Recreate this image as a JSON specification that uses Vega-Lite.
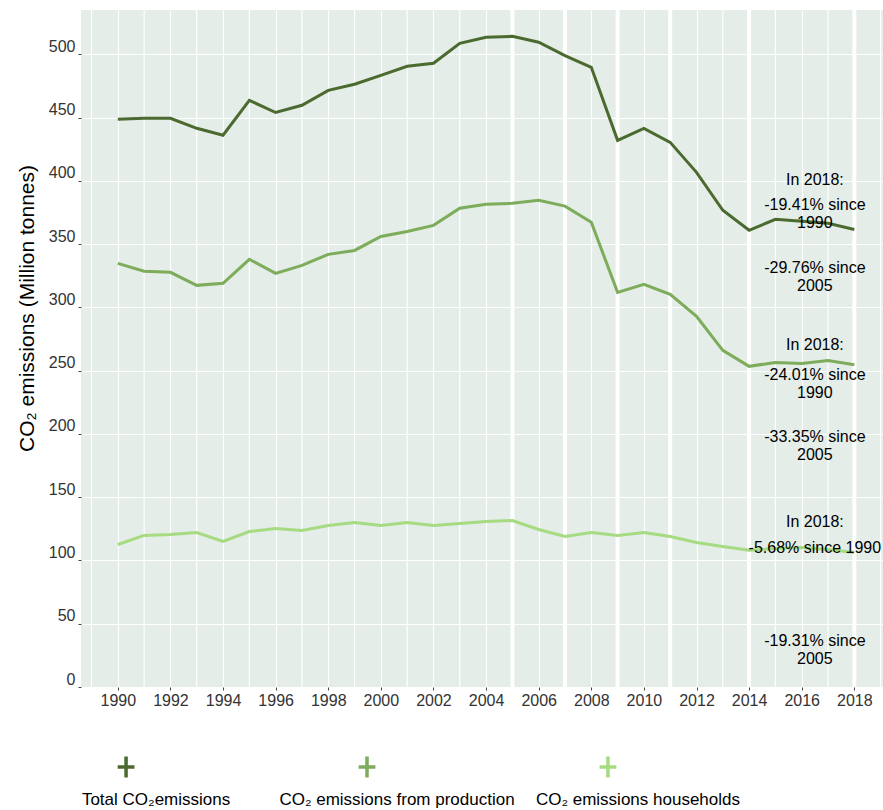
{
  "$schema": "https://vega.github.io/schema/vega-lite/v6.json",
  "padding": {"left": 16, "top": 8, "right": 0, "bottom": 0},
  "background": "white",
  "bounds": "flush",
  "spacing": 40,
  "config": {"font": "Liberation Sans"},
  "datasets": {
    "emissions": [
      {"year": 1990, "series": "Total CO₂emissions", "value": 448.6},
      {"year": 1991, "series": "Total CO₂emissions", "value": 449.4},
      {"year": 1992, "series": "Total CO₂emissions", "value": 449.4},
      {"year": 1993, "series": "Total CO₂emissions", "value": 441.5},
      {"year": 1994, "series": "Total CO₂emissions", "value": 436.0},
      {"year": 1995, "series": "Total CO₂emissions", "value": 463.6},
      {"year": 1996, "series": "Total CO₂emissions", "value": 454.0},
      {"year": 1997, "series": "Total CO₂emissions", "value": 459.7},
      {"year": 1998, "series": "Total CO₂emissions", "value": 471.5},
      {"year": 1999, "series": "Total CO₂emissions", "value": 476.3},
      {"year": 2000, "series": "Total CO₂emissions", "value": 483.4},
      {"year": 2001, "series": "Total CO₂emissions", "value": 490.5},
      {"year": 2002, "series": "Total CO₂emissions", "value": 492.9},
      {"year": 2003, "series": "Total CO₂emissions", "value": 508.7},
      {"year": 2004, "series": "Total CO₂emissions", "value": 513.4},
      {"year": 2005, "series": "Total CO₂emissions", "value": 514.2},
      {"year": 2006, "series": "Total CO₂emissions", "value": 509.5},
      {"year": 2007, "series": "Total CO₂emissions", "value": 499.0},
      {"year": 2008, "series": "Total CO₂emissions", "value": 489.7},
      {"year": 2009, "series": "Total CO₂emissions", "value": 432.0},
      {"year": 2010, "series": "Total CO₂emissions", "value": 441.5},
      {"year": 2011, "series": "Total CO₂emissions", "value": 430.4},
      {"year": 2012, "series": "Total CO₂emissions", "value": 406.7},
      {"year": 2013, "series": "Total CO₂emissions", "value": 376.7},
      {"year": 2014, "series": "Total CO₂emissions", "value": 360.9},
      {"year": 2015, "series": "Total CO₂emissions", "value": 369.6},
      {"year": 2016, "series": "Total CO₂emissions", "value": 368.0},
      {"year": 2017, "series": "Total CO₂emissions", "value": 366.4},
      {"year": 2018, "series": "Total CO₂emissions", "value": 361.5},
      {"year": 1990, "series": "CO₂ emissions from production", "value": 334.8},
      {"year": 1991, "series": "CO₂ emissions from production", "value": 328.5},
      {"year": 1992, "series": "CO₂ emissions from production", "value": 327.7},
      {"year": 1993, "series": "CO₂ emissions from production", "value": 317.4},
      {"year": 1994, "series": "CO₂ emissions from production", "value": 319.0},
      {"year": 1995, "series": "CO₂ emissions from production", "value": 338.0},
      {"year": 1996, "series": "CO₂ emissions from production", "value": 326.9},
      {"year": 1997, "series": "CO₂ emissions from production", "value": 333.2},
      {"year": 1998, "series": "CO₂ emissions from production", "value": 341.9},
      {"year": 1999, "series": "CO₂ emissions from production", "value": 345.0},
      {"year": 2000, "series": "CO₂ emissions from production", "value": 356.0},
      {"year": 2001, "series": "CO₂ emissions from production", "value": 360.0},
      {"year": 2002, "series": "CO₂ emissions from production", "value": 364.8},
      {"year": 2003, "series": "CO₂ emissions from production", "value": 378.3},
      {"year": 2004, "series": "CO₂ emissions from production", "value": 381.4},
      {"year": 2005, "series": "CO₂ emissions from production", "value": 382.2},
      {"year": 2006, "series": "CO₂ emissions from production", "value": 384.6},
      {"year": 2007, "series": "CO₂ emissions from production", "value": 380.0},
      {"year": 2008, "series": "CO₂ emissions from production", "value": 367.2},
      {"year": 2009, "series": "CO₂ emissions from production", "value": 311.9},
      {"year": 2010, "series": "CO₂ emissions from production", "value": 318.2},
      {"year": 2011, "series": "CO₂ emissions from production", "value": 310.3},
      {"year": 2012, "series": "CO₂ emissions from production", "value": 292.9},
      {"year": 2013, "series": "CO₂ emissions from production", "value": 266.0},
      {"year": 2014, "series": "CO₂ emissions from production", "value": 253.4},
      {"year": 2015, "series": "CO₂ emissions from production", "value": 256.5},
      {"year": 2016, "series": "CO₂ emissions from production", "value": 255.7},
      {"year": 2017, "series": "CO₂ emissions from production", "value": 258.0},
      {"year": 2018, "series": "CO₂ emissions from production", "value": 254.7},
      {"year": 1990, "series": "CO₂ emissions households", "value": 112.6},
      {"year": 1991, "series": "CO₂ emissions households", "value": 119.8},
      {"year": 1992, "series": "CO₂ emissions households", "value": 120.6},
      {"year": 1993, "series": "CO₂ emissions households", "value": 122.1},
      {"year": 1994, "series": "CO₂ emissions households", "value": 115.0},
      {"year": 1995, "series": "CO₂ emissions households", "value": 122.9},
      {"year": 1996, "series": "CO₂ emissions households", "value": 125.3},
      {"year": 1997, "series": "CO₂ emissions households", "value": 123.7},
      {"year": 1998, "series": "CO₂ emissions households", "value": 127.7},
      {"year": 1999, "series": "CO₂ emissions households", "value": 130.0},
      {"year": 2000, "series": "CO₂ emissions households", "value": 127.7},
      {"year": 2001, "series": "CO₂ emissions households", "value": 130.0},
      {"year": 2002, "series": "CO₂ emissions households", "value": 127.7},
      {"year": 2003, "series": "CO₂ emissions households", "value": 129.2},
      {"year": 2004, "series": "CO₂ emissions households", "value": 130.8},
      {"year": 2005, "series": "CO₂ emissions households", "value": 131.6},
      {"year": 2006, "series": "CO₂ emissions households", "value": 124.5},
      {"year": 2007, "series": "CO₂ emissions households", "value": 119.0},
      {"year": 2008, "series": "CO₂ emissions households", "value": 122.1},
      {"year": 2009, "series": "CO₂ emissions households", "value": 119.8},
      {"year": 2010, "series": "CO₂ emissions households", "value": 122.1},
      {"year": 2011, "series": "CO₂ emissions households", "value": 119.0},
      {"year": 2012, "series": "CO₂ emissions households", "value": 114.2},
      {"year": 2013, "series": "CO₂ emissions households", "value": 111.0},
      {"year": 2014, "series": "CO₂ emissions households", "value": 108.0},
      {"year": 2015, "series": "CO₂ emissions households", "value": 109.5},
      {"year": 2016, "series": "CO₂ emissions households", "value": 110.3},
      {"year": 2017, "series": "CO₂ emissions households", "value": 108.7},
      {"year": 2018, "series": "CO₂ emissions households", "value": 106.2}
    ],
    "notes": [
      {"year": 2016.5, "value": 400.5, "label": "In 2018:"},
      {"year": 2016.5, "value": 380.7, "label": "-19.41% since\n1990"},
      {"year": 2016.5, "value": 331.0, "label": "-29.76% since\n2005"},
      {"year": 2016.5, "value": 270.1, "label": "In 2018:"},
      {"year": 2016.5, "value": 246.4, "label": "-24.01% since\n1990"},
      {"year": 2016.5, "value": 197.5, "label": "-33.35% since\n2005"},
      {"year": 2016.5, "value": 130.3, "label": "In 2018:"},
      {"year": 2016.5, "value": 109.8, "label": "-5.68% since 1990"},
      {"year": 2016.5, "value": 36.3, "label": "-19.31% since\n2005"}
    ],
    "minorGrid": [
      {"year": 1989}, {"year": 1991}, {"year": 1993}, {"year": 1995}, {"year": 1997},
      {"year": 1999}, {"year": 2001}, {"year": 2003}, {"year": 2013}, {"year": 2015},
      {"year": 2017}, {"year": 2019}
    ],
    "breakLines": [
      {"year": 2005}, {"year": 2007}, {"year": 2009}, {"year": 2011}, {"year": 2014}, {"year": 2018}
    ],
    "legend": [
      {"series": "Total CO₂emissions"},
      {"series": "CO₂ emissions from production"},
      {"series": "CO₂ emissions households"}
    ]
  },
  "vconcat": [
    {
      "width": 802,
      "height": 677,
      "view": {"fill": "#e4ede7", "stroke": null},
      "layer": [
        {
          "data": {"name": "minorGrid"},
          "mark": {"type": "rule", "color": "white", "strokeWidth": 1.2},
          "encoding": {
            "x": {
              "field": "year",
              "type": "quantitative",
              "scale": {"domain": [1988.6, 2019.09], "nice": false, "zero": false},
              "axis": {
                "title": null,
                "values": [1990, 1992, 1994, 1996, 1998, 2000, 2002, 2004, 2006, 2008, 2010, 2012, 2014, 2016, 2018],
                "format": "d",
                "labelOverlap": false,
                "labelFlush": false,
                "labelFontSize": 16,
                "labelColor": "#333333",
                "labelPadding": 2,
                "domain": false,
                "tickSize": 3,
                "tickColor": "#444444",
                "grid": true,
                "gridColor": "white",
                "gridOpacity": 1,
                "gridWidth": 1.2
              }
            }
          }
        },
        {
          "data": {"name": "breakLines"},
          "mark": {"type": "rule", "color": "white", "strokeWidth": 4},
          "encoding": {
            "x": {"field": "year", "type": "quantitative"}
          }
        },
        {
          "data": {"name": "emissions"},
          "mark": {"type": "line", "strokeWidth": 3},
          "encoding": {
            "x": {"field": "year", "type": "quantitative"},
            "y": {
              "field": "value",
              "type": "quantitative",
              "scale": {"domain": [0, 535], "nice": false},
              "axis": {
                "title": "CO₂ emissions (Million tonnes)",
                "titleFontSize": 21,
                "titleFontWeight": "normal",
                "titleColor": "black",
                "titlePadding": 11,
                "titleY": 298,
                "values": [0, 25, 50, 75, 100, 125, 150, 175, 200, 225, 250, 275, 300, 325, 350, 375, 400, 425, 450, 475, 500, 525],
                "labelExpr": "datum.value % 50 == 0 ? datum.label : ''",
                "labelOverlap": false,
                "labelFlush": false,
                "labelFontSize": 16,
                "labelColor": "#333333",
                "labelPadding": 3,
                "labelOffset": -8,
                "domain": false,
                "tickSize": 3,
                "tickColor": "#444444",
                "tickOpacity": {"condition": {"test": "datum.value % 50 != 0", "value": 0}, "value": 1},
                "grid": true,
                "gridColor": "white",
                "gridOpacity": 1,
                "gridWidth": 1.2
              }
            },
            "color": {
              "field": "series",
              "type": "nominal",
              "scale": {
                "domain": ["Total CO₂emissions", "CO₂ emissions from production", "CO₂ emissions households"],
                "range": ["#4b6a2f", "#7dac5b", "#a6db82"]
              },
              "legend": null
            }
          }
        },
        {
          "data": {"name": "notes"},
          "mark": {"type": "text", "fontSize": 16, "color": "black", "lineBreak": "\n", "lineHeight": 18, "align": "center", "baseline": "middle"},
          "encoding": {
            "x": {"field": "year", "type": "quantitative"},
            "y": {"field": "value", "type": "quantitative"},
            "text": {"field": "label"}
          }
        }
      ]
    },
    {
      "width": 572,
      "height": 80,
      "view": {"stroke": null},
      "data": {"name": "legend"},
      "encoding": {
        "x": {"field": "series", "type": "nominal", "sort": null, "scale": {"type": "point", "padding": 0.187}, "axis": null}
      },
      "layer": [
        {
          "mark": {"type": "point", "shape": "M-0.8,0H0.8M0,-1V1", "filled": false, "strokeWidth": 3.5, "size": 441, "opacity": 1},
          "encoding": {
            "color": {
              "field": "series",
              "type": "nominal",
              "scale": {
                "domain": ["Total CO₂emissions", "CO₂ emissions from production", "CO₂ emissions households"],
                "range": ["#4b6a2f", "#7dac5b", "#a6db82"]
              },
              "legend": null
            }
          }
        },
        {
          "mark": {"type": "text", "dx": 30, "dy": 33, "fontSize": 17, "color": "black", "align": "center", "baseline": "middle"},
          "encoding": {"text": {"field": "series"}}
        }
      ]
    }
  ]
}
